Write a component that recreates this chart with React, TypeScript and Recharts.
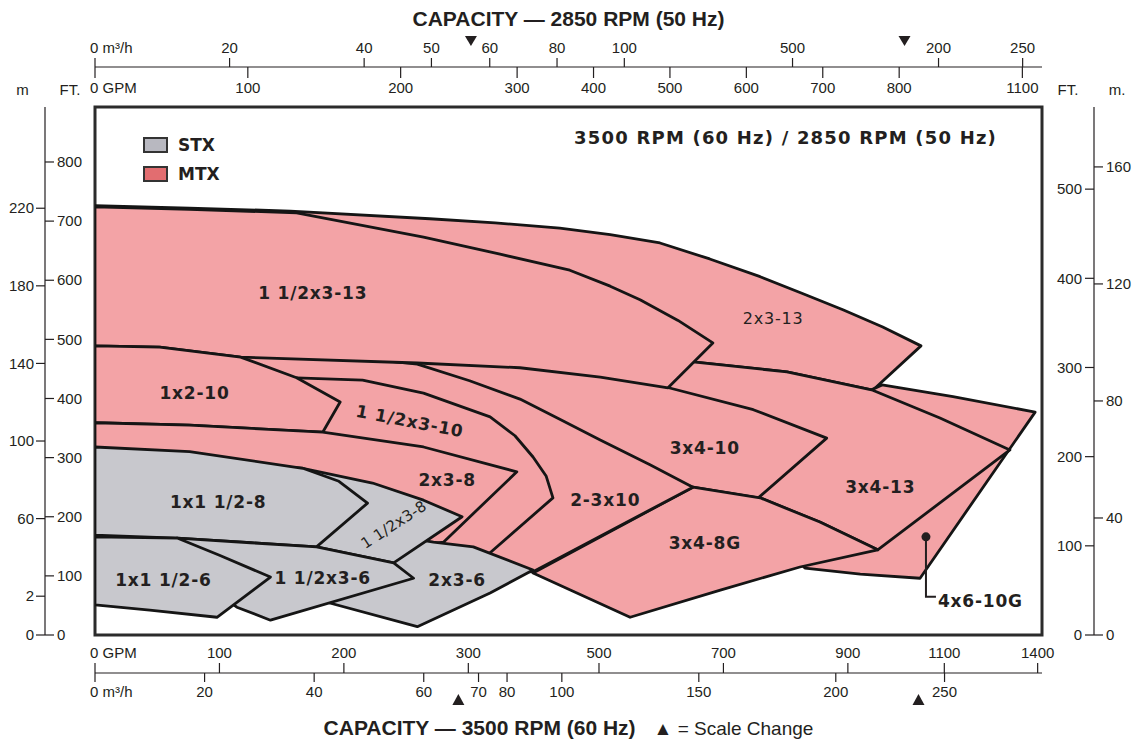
import React from 'react';
import {
  ComposedChart,
  Scatter,
  XAxis,
  YAxis,
  Legend,
  ReferenceArea,
  ReferenceDot,
  Curve,
} from 'recharts';

const W = 1140;
const H = 742;

// 60 Hz capacity axis: full scale up to the first break, half scale to the second, quarter scale after
const SCALE_BREAKS = [310, 1010];
const FLOW_50 = 2850 / 3500; // affinity law: flow ~ speed
const HEAD_50 = FLOW_50 * FLOW_50; // head ~ speed^2
const GPM_PER_M3H = 4.4029;
const FT_PER_M = 3.2808;
const X_MAX = 761; // axis units at the right edge of the frame
const Y_MAX = 893; // 60 Hz feet at the top of the frame

// tick values
const TOP_M3H = [0, 20, 40, 50, 60, 80, 100, 150, 200, 250];
const TOP_M3H_LABELS = ['0 m³/h', '20', '40', '50', '60', '80', '100', '500', '200', '250'];
const TOP_GPM = [0, 100, 200, 300, 400, 500, 600, 700, 800, 1100];
const TOP_MARKS = [246, 807];
const BOTTOM_GPM = [0, 100, 200, 300, 500, 700, 900, 1100, 1400];
const BOTTOM_M3H = [0, 20, 40, 60, 70, 80, 100, 150, 200, 250];
const BOTTOM_MARKS = [292, 1017];
const LEFT_FT = [0, 100, 200, 300, 400, 500, 600, 700, 800];
const LEFT_M = [0, 20, 60, 100, 140, 180, 220];
const LEFT_M_LABELS = ['0', '2', '60', '100', '140', '180', '220'];
const RIGHT_FT = [0, 100, 200, 300, 400, 500];
const RIGHT_M = [0, 40, 80, 120, 160];

// coverage regions, [gpm @ 60 Hz, ft @ 60 Hz]; parts hidden behind later regions are rough
const MTX_2X3_13 = [[0, 726], [76, 722], [157, 717], [269, 704], [333, 697], [437, 688], [518, 677], [598, 663], [678, 636], [759, 606], [826, 578], [892, 550], [956, 521], [1025, 489], [940, 414], [802, 445], [651, 462], [502, 470], [245, 567], [0, 583]];
const MTX_4X6_10G = [[920, 406], [955, 423], [1128, 403], [1392, 377], [1022, 96], [920, 103], [831, 113], [791, 161], [903, 313]];
const MTX_3X4_13 = [[502, 479], [651, 462], [802, 445], [940, 414], [1086, 367], [1311, 313], [948, 144], [855, 191], [759, 232], [651, 250], [534, 330]];
const MTX_3X4_10 = [[259, 472], [373, 462], [502, 445], [609, 419], [748, 381], [866, 333], [756, 232], [651, 250], [502, 313], [309, 397], [259, 448]];
const MTX_3X4_8G = [[651, 250], [759, 232], [855, 191], [948, 144], [823, 115], [695, 76], [550, 30], [394, 105]];
const MTX_2_3X10 = [[84, 490], [165, 479], [259, 458], [301, 430], [373, 399], [437, 365], [502, 330], [582, 288], [651, 250], [394, 107], [309, 110], [277, 279], [261, 364], [165, 364], [84, 397]];
const MTX_1_5X3_13 = [[0, 724], [76, 720], [162, 714], [264, 673], [341, 644], [453, 617], [518, 590], [566, 567], [627, 532], [683, 494], [611, 418], [502, 436], [373, 452], [259, 460], [117, 470], [52, 487], [0, 489]];
const MTX_1_5X3_10 = [[84, 440], [162, 435], [215, 431], [264, 409], [325, 369], [365, 337], [394, 301], [415, 269], [426, 232], [325, 139], [301, 118], [165, 228], [84, 364]];
const MTX_1X2_10 = [[0, 489], [52, 487], [117, 470], [162, 435], [197, 394], [183, 343], [76, 355], [0, 359]];
const MTX_2X3_8 = [[0, 359], [76, 355], [183, 343], [264, 318], [368, 276], [280, 157], [245, 147], [0, 178]];
const STX_2X3_6 = [[213, 178], [272, 157], [304, 149], [394, 110], [325, 71], [259, 14], [173, 63]];
const STX_1_5X3_8 = [[125, 288], [167, 282], [223, 257], [264, 228], [295, 200], [240, 122], [178, 149], [125, 161]];
const STX_1X1_5_8 = [[0, 318], [76, 310], [167, 282], [196, 260], [219, 223], [178, 149], [125, 156], [66, 164], [0, 169]];
const STX_1_5X3_6 = [[66, 164], [125, 156], [178, 149], [240, 122], [256, 96], [141, 25], [114, 47], [84, 93]];
const STX_1X1_5_6 = [[0, 166], [66, 164], [100, 135], [141, 98], [98, 30], [44, 42], [0, 51]];

// model labels, [gpm, ft] of the text centre, angle clockwise in degrees
const LABELS = [
  { text: '1 1/2x3-13', gpm: 175, ft: 578, angle: 0 },
  { text: '2x3-13', gpm: 780, ft: 536, angle: 0 },
  { text: '1x2-10', gpm: 80, ft: 409, angle: 0 },
  { text: '1 1/2x3-10', gpm: 253, ft: 362, angle: 11 },
  { text: '3x4-10', gpm: 670, ft: 316, angle: 0 },
  { text: '2x3-8', gpm: 283, ft: 262, angle: 0 },
  { text: '2-3x10', gpm: 510, ft: 228, angle: 0 },
  { text: '3x4-13', gpm: 952, ft: 250, angle: 0 },
  { text: '1x1 1/2-8', gpm: 99, ft: 225, angle: 0 },
  { text: '1 1/2x3-8', gpm: 240, ft: 187, angle: -33 },
  { text: '3x4-8G', gpm: 670, ft: 156, angle: 0 },
  { text: '1x1 1/2-6', gpm: 55, ft: 93, angle: 0 },
  { text: '1 1/2x3-6', gpm: 183, ft: 96, angle: 0 },
  { text: '2x3-6', gpm: 291, ft: 93, angle: 0 },
];
const LIGHT_LABELS = ['2x3-13', '1 1/2x3-8'];
const SMALL_LABELS = ['1 1/2x3-8'];
const CALLOUT = { text: '4x6-10G', gpm: 1041, ft: 166 };

const INK = '#231f20';
const EDGE = '#151515';
const MTX_FILL = '#f3a3a6';
const STX_FILL = '#c8c8cd';
const SANS = '"Liberation Sans", Arial, sans-serif';
const BLOCK = '"DejaVu Sans", Verdana, sans-serif';

const FAMILIES = [
  { name: 'STX', swatch: '#b8b8c0' },
  { name: 'MTX', swatch: '#e26d70' },
];

const toAxis = (gpm: number) => {
  const [b1, b2] = SCALE_BREAKS;
  if (gpm <= b1) return gpm;
  if (gpm <= b2) return b1 + (gpm - b1) / 2;
  return b1 + (b2 - b1) / 2 + (gpm - b2) / 4;
};

const toPoints = (pts: number[][]) => pts.map(([gpm, ft]) => ({ x: toAxis(gpm), y: ft }));

// frame extent, used so that every capacity axis has data to build its scale from
const FRAME = [{ x: 0, y: 0 }, { x: X_MAX, y: Y_MAX }];

// back to front
const REGIONS = [
  { key: '2x3-13', fill: MTX_FILL, pts: MTX_2X3_13 },
  { key: '4x6-10G', fill: MTX_FILL, pts: MTX_4X6_10G },
  { key: '3x4-13', fill: MTX_FILL, pts: MTX_3X4_13 },
  { key: '3x4-10', fill: MTX_FILL, pts: MTX_3X4_10 },
  { key: '3x4-8G', fill: MTX_FILL, pts: MTX_3X4_8G },
  { key: '2-3x10', fill: MTX_FILL, pts: MTX_2_3X10 },
  { key: '1 1/2x3-13', fill: MTX_FILL, pts: MTX_1_5X3_13 },
  { key: '1 1/2x3-10', fill: MTX_FILL, pts: MTX_1_5X3_10 },
  { key: '1x2-10', fill: MTX_FILL, pts: MTX_1X2_10 },
  { key: '2x3-8', fill: MTX_FILL, pts: MTX_2X3_8 },
  { key: '2x3-6', fill: STX_FILL, pts: STX_2X3_6 },
  { key: '1 1/2x3-8', fill: STX_FILL, pts: STX_1_5X3_8 },
  { key: '1x1 1/2-8', fill: STX_FILL, pts: STX_1X1_5_8 },
  { key: '1 1/2x3-6', fill: STX_FILL, pts: STX_1_5X3_6 },
  { key: '1x1 1/2-6', fill: STX_FILL, pts: STX_1X1_5_6 },
];

const tickText = { fontSize: 15, fill: INK, fontFamily: SANS };

const TopGpmTick = ({ x, y, index }: any) => {
  if (index >= TOP_GPM.length) {
    return <path d={`M${x - 6},${y - 71} h12 l-6,10 z`} fill={INK} />;
  }
  const first = index === 0;
  return (
    <g>
      <line x1={x} x2={x} y1={y - 40} y2={y - 29} stroke={INK} strokeWidth={1.2} />
      <text x={first ? x - 5 : x} y={y - 14} textAnchor={first ? 'start' : 'middle'} {...tickText}>
        {first ? '0 GPM' : TOP_GPM[index]}
      </text>
    </g>
  );
};

const TopM3hTick = ({ x, y, index }: any) => {
  const first = index === 0;
  return (
    <text x={first ? x - 5 : x} y={y - 2} textAnchor={first ? 'start' : 'middle'} {...tickText}>
      {TOP_M3H_LABELS[index]}
    </text>
  );
};

const BottomGpmTick = ({ x, y, index }: any) => {
  if (index >= BOTTOM_GPM.length) {
    return <path d={`M${x - 6},${y + 70} h12 l-6,-11 z`} fill={INK} />;
  }
  const first = index === 0;
  return (
    <g>
      <line x1={x} x2={x} y1={y + 28} y2={y + 38} stroke={INK} strokeWidth={1.2} />
      <text x={first ? x - 5 : x} y={y + 23} textAnchor={first ? 'start' : 'middle'} {...tickText}>
        {first ? '0 GPM' : BOTTOM_GPM[index]}
      </text>
    </g>
  );
};

const BottomM3hTick = ({ x, y, index }: any) => {
  const first = index === 0;
  return (
    <text x={first ? x - 5 : x} y={y + 12} textAnchor={first ? 'start' : 'middle'} {...tickText}>
      {first ? '0 m³/h' : BOTTOM_M3H[index]}
    </text>
  );
};

const LeftFtTick = ({ x, y, index }: any) => (
  <g>
    <line x1={x - 50} x2={x - 41} y1={y} y2={y} stroke={INK} strokeWidth={1.2} />
    <text x={x - 38} y={y} dy="0.35em" textAnchor="start" {...tickText}>
      {LEFT_FT[index]}
    </text>
  </g>
);

const LeftMTick = ({ x, y, index }: any) => (
  <text x={x} y={y} dy="0.35em" textAnchor="end" {...tickText}>
    {LEFT_M_LABELS[index]}
  </text>
);

const RightFtTick = ({ x, y, index }: any) => (
  <g>
    <line x1={x + 43} x2={x + 52} y1={y} y2={y} stroke={INK} strokeWidth={1.2} />
    <text x={x + 40} y={y} dy="0.35em" textAnchor="end" {...tickText}>
      {RIGHT_FT[index]}
    </text>
  </g>
);

const RightMTick = ({ x, y, index }: any) => (
  <text x={x} y={y} dy="0.35em" textAnchor="start" {...tickText}>
    {RIGHT_M[index]}
  </text>
);

const TopTitle = ({ viewBox }: any) => (
  <text x={viewBox.x + viewBox.width / 2} y={viewBox.y + 26} textAnchor="middle" fontFamily={SANS} fontSize={21} fontWeight="bold" fill={INK}>
    CAPACITY — 2850 RPM (50 Hz)
  </text>
);

const BottomTitle = ({ viewBox }: any) => (
  <text x={viewBox.x + viewBox.width / 2} y={viewBox.y + 62} textAnchor="middle" fontFamily={SANS} fill={INK}>
    <tspan fontSize={21} fontWeight="bold">CAPACITY — 3500 RPM (60 Hz)</tspan>
    <tspan fontSize={19} dx={18}>▲ = Scale Change</tspan>
  </text>
);

const PlotTitle = ({ viewBox }: any) => (
  <text x={viewBox.x + viewBox.width - 45} y={viewBox.y + 37} textAnchor="end" fontFamily={BLOCK} fontSize={18} fontWeight="bold" letterSpacing={1.2} fill={INK}>
    3500 RPM (60 Hz) / 2850 RPM (50 Hz)
  </text>
);

const renderLegend = () => (
  <div style={{ fontFamily: BLOCK, fontWeight: 'bold', fontSize: 17, color: INK }}>
    {FAMILIES.map((f) => (
      <div key={f.name} style={{ display: 'flex', alignItems: 'center', height: 29 }}>
        <span style={{ display: 'inline-block', width: 21, height: 12, border: '2px solid #333', background: f.swatch, marginRight: 10 }} />
        {f.name}
      </div>
    ))}
  </div>
);

const axisProps = { type: 'number' as const, dataKey: 'x', domain: [0, X_MAX], allowDataOverflow: true, interval: 0 as const };
const yAxisProps = { type: 'number' as const, dataKey: 'y', domain: [0, Y_MAX], allowDataOverflow: true, interval: 0 as const };
const headerLabel = (value: string) => ({ value, position: 'top' as const, offset: 12, fill: INK, fontSize: 15, fontFamily: SANS });

export default function App() {
  return (
    <div style={{ position: 'absolute', left: 0, top: 0, fontFamily: SANS }}>
      <ComposedChart width={W} height={H} margin={{ top: 0, right: 0, bottom: 0, left: 0 }}>
        <XAxis
          xAxisId="bottomGpm"
          {...axisProps}
          ticks={[...BOTTOM_GPM.map(toAxis), ...BOTTOM_MARKS.map(toAxis)]}
          height={38}
          axisLine={false}
          tickLine={false}
          tickSize={0}
          tickMargin={0}
          tick={(p: any) => <BottomGpmTick {...p} />}
        />
        <XAxis
          xAxisId="bottomM3h"
          {...axisProps}
          ticks={BOTTOM_M3H.map((m) => toAxis(m * GPM_PER_M3H))}
          height={69}
          axisLine={{ stroke: INK, strokeWidth: 1.2 }}
          tickLine={{ stroke: INK, strokeWidth: 1.2 }}
          tickSize={9}
          tickMargin={3}
          tick={(p: any) => <BottomM3hTick {...p} />}
          label={{ content: (p: any) => <BottomTitle {...p} /> }}
        />
        <XAxis
          xAxisId="topGpm"
          orientation="top"
          {...axisProps}
          ticks={[...TOP_GPM.map((g) => toAxis(g / FLOW_50)), ...TOP_MARKS.map((g) => toAxis(g / FLOW_50))]}
          height={40}
          axisLine={false}
          tickLine={false}
          tickSize={0}
          tickMargin={0}
          tick={(p: any) => <TopGpmTick {...p} />}
        />
        <XAxis
          xAxisId="topM3h"
          orientation="top"
          {...axisProps}
          ticks={TOP_M3H.map((m) => toAxis((m * GPM_PER_M3H) / FLOW_50))}
          height={67}
          axisLine={{ stroke: INK, strokeWidth: 1.2 }}
          tickLine={{ stroke: INK, strokeWidth: 1.2 }}
          tickSize={9}
          tickMargin={3}
          tick={(p: any) => <TopM3hTick {...p} />}
          label={{ content: (p: any) => <TopTitle {...p} /> }}
        />
        <YAxis
          yAxisId="ftLeft"
          {...yAxisProps}
          ticks={LEFT_FT}
          width={50}
          axisLine={false}
          tickLine={false}
          tickSize={0}
          tickMargin={0}
          tick={(p: any) => <LeftFtTick {...p} />}
          label={headerLabel('FT.')}
        />
        <YAxis
          yAxisId="mLeft"
          {...yAxisProps}
          ticks={LEFT_M.map((m) => m * FT_PER_M)}
          width={45}
          axisLine={{ stroke: INK, strokeWidth: 1.2 }}
          tickLine={{ stroke: INK, strokeWidth: 1.2 }}
          tickSize={9}
          tickMargin={2}
          tick={(p: any) => <LeftMTick {...p} />}
          label={headerLabel('m')}
        />
        <YAxis
          yAxisId="ftRight"
          orientation="right"
          {...yAxisProps}
          ticks={RIGHT_FT.map((f) => f / HEAD_50)}
          width={52}
          axisLine={false}
          tickLine={false}
          tickSize={0}
          tickMargin={0}
          tick={(p: any) => <RightFtTick {...p} />}
          label={headerLabel('FT.')}
        />
        <YAxis
          yAxisId="mRight"
          orientation="right"
          {...yAxisProps}
          ticks={RIGHT_M.map((m) => (m * FT_PER_M) / HEAD_50)}
          width={46}
          axisLine={{ stroke: INK, strokeWidth: 1.2 }}
          tickLine={{ stroke: INK, strokeWidth: 1.2 }}
          tickSize={9}
          tickMargin={3}
          tick={(p: any) => <RightMTick {...p} />}
          label={headerLabel('m.')}
        />

        {['bottomM3h', 'topGpm', 'topM3h'].map((id) => (
          <Scatter
            key={id}
            xAxisId={id}
            yAxisId="ftLeft"
            data={FRAME}
            fill="none"
            isAnimationActive={false}
            shape={() => <g />}
          />
        ))}

        {REGIONS.map((r) => (
          <Scatter
            key={r.key}
            name={r.key}
            xAxisId="bottomGpm"
            yAxisId="ftLeft"
            data={toPoints(r.pts)}
            fill={r.fill}
            isAnimationActive={false}
            shape={() => <g />}
            line={(lp: any) => (
              <Curve {...lp} type="linearClosed" fill={r.fill} stroke={EDGE} strokeWidth={2.8} strokeLinejoin="round" />
            )}
          />
        ))}

        <ReferenceArea
          xAxisId="bottomGpm"
          yAxisId="ftLeft"
          x1={0}
          x2={X_MAX}
          y1={0}
          y2={Y_MAX}
          fill="none"
          stroke="#2b2b2b"
          strokeWidth={3}
          label={{ content: (p: any) => <PlotTitle {...p} /> }}
        />

        {LABELS.map((l) => (
          <ReferenceDot
            key={l.text}
            xAxisId="bottomGpm"
            yAxisId="ftLeft"
            x={toAxis(l.gpm)}
            y={l.ft}
            r={0}
            zIndex={2000}
            shape={(p: any) => (
              <text
                x={p.cx}
                y={p.cy}
                dy="0.36em"
                transform={l.angle ? `rotate(${l.angle} ${p.cx} ${p.cy})` : undefined}
                textAnchor="middle"
                fontFamily={BLOCK}
                fontSize={SMALL_LABELS.includes(l.text) ? 15 : LIGHT_LABELS.includes(l.text) ? 16 : 17}
                fontWeight={LIGHT_LABELS.includes(l.text) ? 'normal' : 'bold'}
                letterSpacing={SMALL_LABELS.includes(l.text) ? 0.3 : 0.8}
                fill={INK}
              >
                {l.text}
              </text>
            )}
          />
        ))}

        <ReferenceDot
          xAxisId="bottomGpm"
          yAxisId="ftLeft"
          x={toAxis(CALLOUT.gpm)}
          y={CALLOUT.ft}
          r={0}
          zIndex={2000}
          shape={(p: any) => (
            <g>
              <circle cx={p.cx} cy={p.cy} r={4.5} fill={INK} />
              <path d={`M${p.cx},${p.cy} V${p.cy + 60} H${p.cx + 10}`} stroke={INK} strokeWidth={2} fill="none" />
              <text x={p.cx + 12} y={p.cy + 64} dy="0.36em" fontFamily={BLOCK} fontSize={17} fontWeight="bold" letterSpacing={0.8} fill={INK}>
                {CALLOUT.text}
              </text>
            </g>
          )}
        />

        <Legend
          layout="horizontal"
          verticalAlign="middle"
          align="center"
          content={renderLegend}
          wrapperStyle={{ position: 'absolute', left: 143, top: 130, width: 'auto' }}
        />
      </ComposedChart>
    </div>
  );
}
